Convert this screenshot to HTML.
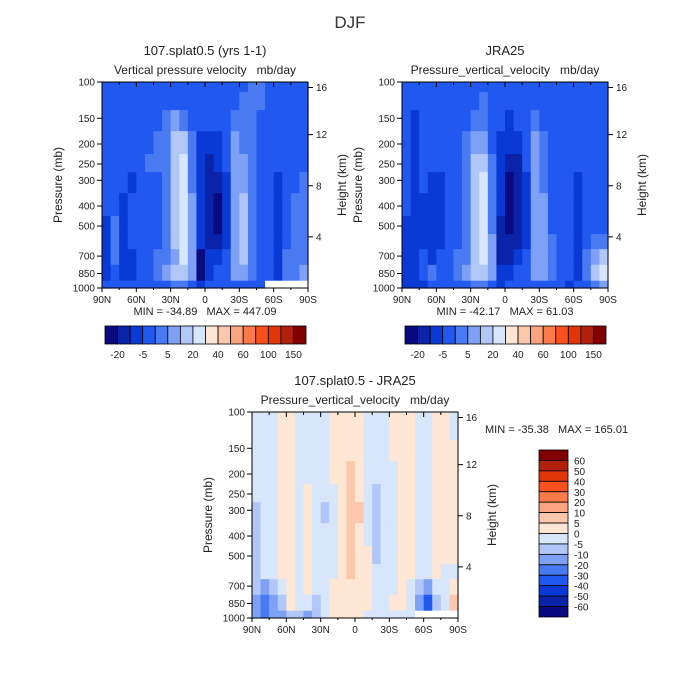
<!DOCTYPE html>
<html><head><meta charset="utf-8"><style>
html,body{margin:0;padding:0;background:#fff}
svg{display:block;font-family:"Liberation Sans",sans-serif}
text{white-space:pre}
</style></head><body>
<svg id="chart" width="700" height="700" viewBox="0 0 700 700">
<text x="350" y="28" text-anchor="middle" font-size="17" fill="#333">DJF</text>
</svg>
<script>
// ---------- data ----------
const palette = ['#0a0a80','#0a23a8','#0a3ad6','#2158f0','#4a7af2','#7ea0f5','#b0c7f8','#d7e6fa','#fde6d4','#fcc8ad','#fba47f','#fa7a4a','#f8501e','#e03608','#b0200a','#800000'];
const pressureLevels = [100,125,150,200,250,300,400,500,600,700,850,1000];
const pressureTicks = [100,150,200,250,300,400,500,700,850,1000];
const heightTicks = [4,8,12,16];
const latTickLabels = ['90N','60N','30N','0','30S','60S','90S'];
const latTickValues = [90,60,30,0,-30,-60,-90];
const topBarLabels = ['-20','-5','5','20','40','60','100','150'];
const diffBarLabels = ['60','50','40','30','20','10','5','0','-5','-10','-20','-30','-40','-50','-60'];
const modelField = [
[3,3,3,3,3,3,3,3,3,3,3,3,3,3,3,3,3,4,4,3,3,3,3,3],
[3,3,3,3,3,3,3,3,3,3,3,3,3,3,3,3,4,4,4,3,3,3,3,3],
[3,3,3,3,3,3,3,4,5,4,3,3,3,3,3,4,4,4,3,3,3,3,3,3],
[3,3,3,3,3,3,4,4,6,6,4,2,2,2,3,5,4,4,3,3,3,3,3,3],
[3,3,3,3,3,4,4,4,6,7,4,2,1,2,3,5,5,4,3,3,3,3,3,3],
[3,3,3,2,3,3,3,4,6,7,4,2,1,1,2,5,5,4,3,3,2,3,3,4],
[3,3,2,3,3,3,3,4,6,7,5,2,1,0,2,5,6,4,3,3,2,3,4,4],
[2,4,2,3,3,3,3,4,6,7,5,2,1,0,2,5,6,4,3,3,2,3,4,4],
[2,4,2,3,3,3,3,4,6,7,5,2,1,1,2,5,6,4,3,3,2,3,4,4],
[2,4,2,2,3,3,4,4,5,7,5,0,2,2,3,5,6,4,3,3,2,4,4,4],
[2,3,2,2,3,3,4,5,6,6,5,0,2,3,3,5,5,4,3,3,2,4,4,5],
[3,3,3,3,3,3,3,3,4,4,3,2,3,3,3,3,3,3,3,-1,-1,-1,-1,-1]];
const obsField = [
[3,3,3,3,3,3,3,3,3,3,3,3,3,3,3,3,3,3,3,3,3,3,3,3],
[3,3,3,3,3,3,3,3,3,4,3,3,3,3,3,3,3,3,3,3,3,3,3,3],
[3,2,3,3,3,3,3,3,4,4,3,3,2,3,3,4,3,3,3,3,3,3,3,3],
[3,2,3,3,3,3,3,4,5,5,3,2,2,2,3,5,4,3,3,3,3,3,3,3],
[3,2,3,3,3,3,3,4,6,6,4,2,1,1,3,5,4,3,3,3,3,3,3,3],
[3,2,3,2,2,3,3,4,6,7,4,2,0,1,2,5,4,3,3,3,2,3,3,3],
[3,2,2,2,2,3,3,4,6,7,4,2,0,1,2,5,5,3,3,3,2,3,3,3],
[2,2,2,2,2,3,3,4,6,7,4,1,0,1,2,5,5,3,3,3,2,3,3,3],
[2,2,2,2,2,3,3,4,6,7,5,1,1,1,2,5,5,4,3,3,2,3,4,4],
[2,2,3,2,3,3,4,4,6,7,5,1,1,2,3,5,5,4,3,3,2,4,5,6],
[2,2,3,4,3,3,4,5,6,6,5,2,2,3,3,5,5,4,3,3,2,4,6,7],
[2,2,2,3,3,3,3,3,4,4,3,2,3,3,3,3,3,3,3,2,3,3,4,5]];
const diffField = [
[7,7,7,8,8,7,7,7,7,8,8,8,8,7,7,7,8,8,8,7,7,8,8,7],
[7,7,7,8,8,7,7,7,7,8,8,8,8,7,7,7,8,8,8,7,7,8,8,7],
[7,7,7,8,8,7,7,7,7,8,8,8,8,7,7,7,8,8,8,7,7,8,8,8],
[7,7,7,8,8,7,7,7,7,8,8,9,8,7,7,7,7,8,8,7,7,8,8,8],
[7,7,7,8,8,7,8,7,7,7,8,9,8,7,6,7,7,8,8,7,7,8,8,8],
[6,7,7,8,8,7,8,7,6,7,8,9,9,7,6,7,7,8,8,7,7,8,8,8],
[6,7,7,8,8,7,8,7,7,7,8,9,8,7,6,7,7,8,8,7,7,8,8,8],
[6,7,7,8,8,7,8,7,7,7,8,9,8,8,6,7,7,8,8,7,7,8,8,8],
[6,7,7,8,8,7,8,7,7,7,8,9,8,8,7,7,7,8,8,7,7,8,7,7],
[6,5,6,7,8,7,8,7,7,8,8,8,8,8,7,7,7,8,7,6,5,7,7,8],
[5,4,5,6,8,7,7,6,7,8,8,8,8,8,7,7,8,8,7,5,3,6,7,9],
[5,4,5,5,6,6,5,6,7,8,8,8,8,7,7,7,7,7,7,-1,-1,-1,-1,-1]];

// ---------- drawing ----------
const NS='http://www.w3.org/2000/svg';
const svg=document.getElementById('chart');
function mk(tag,attrs,parent){const e=document.createElementNS(NS,tag);for(const k in attrs)e.setAttribute(k,attrs[k]);(parent||svg).appendChild(e);return e;}
function txt(x,y,s,size,anchor,parent,rot){const t=mk('text',{x:x,y:y,'font-size':size,'text-anchor':anchor||'middle',fill:'#222'},parent);if(rot)t.setAttribute('transform','rotate(-90 '+x+' '+y+')');t.textContent=s;return t;}

function panel(px,py,field,title,sub,name,minmax){
  const W=206,H=206;
  const g=mk('g',{});
  
  
  const xS=lat=>px+(90-lat)/180*W;
  const yS=p=>py+Math.log10(p/100)*H;
  const nC=field[0].length;
  const bounds=[100];
  for(let i=0;i<pressureLevels.length-1;i++)bounds.push(Math.sqrt(pressureLevels[i]*pressureLevels[i+1]));
  bounds.push(1000);
  field.forEach((row,r)=>{
    row.forEach((v,c)=>{
      const x0=xS(90-c*180/nC),x1=xS(90-(c+1)*180/nC);
      const y0=yS(bounds[r]),y1=yS(bounds[r+1]);
      const cell=mk('rect',{x:x0.toFixed(2),y:y0.toFixed(2),width:(x1-x0+0.6).toFixed(2),height:(y1-y0+0.6).toFixed(2),fill:v<0?'#fff':palette[v]},g);
      
      
    });
  });
  mk('rect',{x:px,y:py,width:W,height:H,fill:'none',stroke:'#000','stroke-width':1},g);
  pressureTicks.forEach(p=>{const y=yS(p);mk('line',{x1:px-5,x2:px,y1:y,y2:y,stroke:'#000'},g);
    const t=txt(px-7,y+3.5,String(p),10,'end',g);});
  heightTicks.forEach(h=>{const p=1000*Math.exp(-h/7.0);const y=yS(Math.max(100,p))+ (h==16?4:0);
    mk('line',{x1:px+W,x2:px+W+5,y1:y,y2:y,stroke:'#000'},g);
    const t=txt(px+W+8,y+3.5,String(h),10,'start',g);});
  latTickValues.forEach((l,i)=>{const x=xS(l);mk('line',{x1:x,x2:x,y1:py+H,y2:py+H+4,stroke:'#000'},g);mk('line',{x1:x,x2:x,y1:py,y2:py+5,stroke:'#000'},g);
    const t=txt(x,py+H+15,latTickLabels[i],10,'middle',g);});
  for(let l=75;l>-90;l-=15){if(l%30===0)continue;const x=xS(l);mk('line',{x1:x,x2:x,y1:py+H,y2:py+H+2,stroke:'#000'},g);mk('line',{x1:x,x2:x,y1:py,y2:py+3,stroke:'#000'},g);}
  const t1=txt(px+W/2,py-27,title,13,'middle',g);
  const t2=txt(px+W/2,py-8,sub,12,'middle',g);
  const ya=txt(px-40,py+H/2,'Pressure (mb)',12,'middle',g,true);
  const yb=txt(px+W+38,py+H/2,'Height (km)',12,'middle',g,true);
  if(minmax){const m=txt(px+W/2,py+H+27,minmax,11,'middle',g);}
}
function hbar(x,y,name){
  const g=mk('g',{});
  const w=201/16;
  palette.forEach((c,i)=>{const r=mk('rect',{x:x+i*w,y:y,width:w,height:18,fill:c,stroke:'#000','stroke-width':0.8},g);});
  topBarLabels.forEach((s,j)=>{const t=txt(x+(2*j+1)*w,y+32,s,10,'middle',g);});
}
panel(102,82,modelField,'107.splat0.5 (yrs 1-1)','Vertical pressure velocity   mb/day','model-panel','MIN = -34.89   MAX = 447.09');
panel(402,82,obsField,'JRA25','Pressure_vertical_velocity   mb/day','jra25-panel','MIN = -42.17   MAX = 61.03');
panel(252,412,diffField,'107.splat0.5 - JRA25','Pressure_vertical_velocity   mb/day','difference-panel',null);
hbar(105,326,'model-colorbar');
hbar(405,326,'jra25-colorbar');
const mm=txt(485,433,'MIN = -35.38   MAX = 165.01',11,'start');


const vg=mk('g',{});


const vh=167/16;
palette.slice().reverse().forEach((c,i)=>{const r=mk('rect',{x:539,y:450+i*vh,width:29,height:vh,fill:c,stroke:'#000','stroke-width':0.8},vg);});
diffBarLabels.forEach((s,i)=>{const t=txt(574,450+(i+1)*vh+4,s,10,'start',vg);});
</script>
</body></html>
